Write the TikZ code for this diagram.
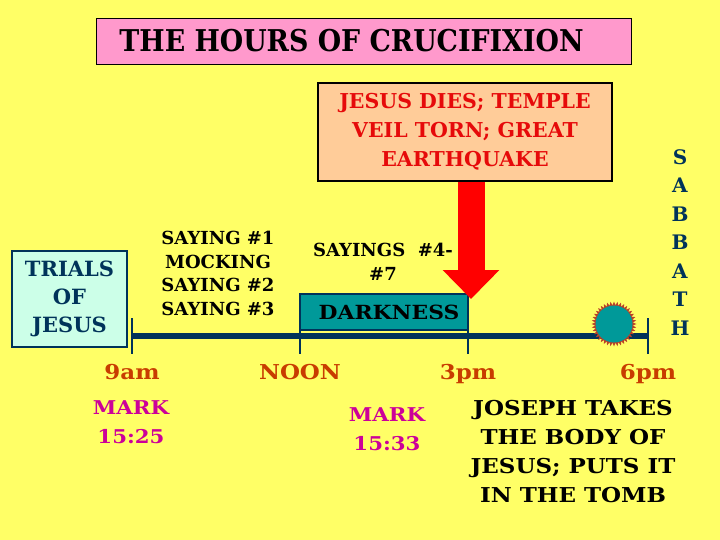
\documentclass[tikz,border=0pt]{standalone}
\usepackage{fontspec}
\setmainfont{DejaVu Serif}
\newfontfamily\widefont{DejaVu Serif}[FakeStretch=1.12]
\newfontfamily\narrowfont{DejaVu Serif}[FakeStretch=0.895]
\usepackage{xcolor}
\usetikzlibrary{arrows.meta,shapes.geometric,positioning}
\definecolor{bgyellow}{RGB}{255,255,102}
\definecolor{titlepink}{RGB}{255,153,204}
\definecolor{peach}{RGB}{255,204,153}
\definecolor{mint}{RGB}{204,255,232}
\definecolor{navy}{RGB}{0,51,90}
\definecolor{tealbox}{RGB}{0,153,153}
\definecolor{hourbrown}{RGB}{200,60,0}
\definecolor{markpink}{RGB}{204,0,153}
\definecolor{diesred}{RGB}{230,10,10}
\definecolor{sunspike}{RGB}{185,65,40}
\begin{document}
\begin{tikzpicture}[x=1pt,y=-1pt,>=Stealth,
  txt/.style 2 args={font=\bfseries\fontsize{#1}{#2}\selectfont,align=center,inner sep=0pt},
  wtxt/.style 2 args={font=\widefont\bfseries\fontsize{#1}{#2}\selectfont,align=center,inner sep=0pt},
  hour/.style={wtxt={20.5}{29},text=hourbrown,text height=15pt,text depth=0pt},
  verse/.style={wtxt={19}{29},text=markpink},
  tick/.style={navy,line width=2.5pt}]
\useasboundingbox[fill=bgyellow](0,0)rectangle(720,540);
% title
\node[draw=black,fill=titlepink,minimum width=535pt,minimum height=46pt,inner sep=0pt](titlebox)at(363.5,41){};
\node[font=\narrowfont\bfseries\fontsize{30}{36}\selectfont,inner sep=0pt]at([xshift=-12pt]titlebox.center){THE HOURS OF CRUCIFIXION};
% death of Jesus
\node[draw=black,line width=2pt,fill=peach,minimum width=294pt,minimum height=98pt,txt={20.5}{29},text=diesred](dies)at(465,132){JESUS DIES; TEMPLE\\VEIL TORN; GREAT\\EARTHQUAKE};
% timeline
\coordinate(t9)at(132,336);
\coordinate(tnoon)at(300,336);
\coordinate(t3)at(468,336);
\coordinate(t6)at(648,336);
\node[draw=navy,line width=1.5pt,fill=tealbox,minimum width=168pt,minimum height=36pt,wtxt={19.5}{24}](dark)at(384,312){\hspace*{10pt}DARKNESS};
\draw[navy,line width=6pt](t9)--(t6);
\foreach \t in {t9,tnoon,t3,t6}
  \draw[tick]([yshift=18pt]\t)--([yshift=-18pt]\t);
\node[star,star points=40,star point ratio=1.2,fill=sunspike,minimum size=45pt,inner sep=0pt](sun)at(614,324){};
\fill[tealbox](sun.center)circle(18.5);
\coordinate(tip)at(471,299);
\draw[red,line width=27pt,-{Triangle[width=55pt,length=29pt]}](dies.south-|tip)--(tip);
% sayings
\node[draw=navy,line width=2pt,fill=mint,minimum width=115pt,minimum height=96pt,txt={21}{28},text=navy](trials)at(69.5,299){TRIALS\\OF\\JESUS};
\node[txt={18}{23.5}](say13)at(218,273.5){SAYING \#1\\MOCKING\\SAYING \#2\\SAYING \#3};
\node[txt={18}{24}](say47)at(383,262){SAYINGS\ \ \#4-\\\#7};
\node[txt={20}{28.5},text=navy](sabbath)at(680,242.5){S\\A\\B\\B\\A\\T\\H};
% hours
\node[hour,below=28pt of t9](h9){9am};
\node[hour,below=28pt of tnoon](hnoon){NOON};
\node[hour,below=28pt of t3](h3){3pm};
\node[hour,below=28pt of t6](h6){6pm};
\node[verse](mark25)at(131,422.5){MARK\\15:25};
\node[verse](mark33)at(387,429){MARK\\15:33};
\node[wtxt={20.5}{29}](joseph)at(573,451.5){JOSEPH TAKES\\THE BODY OF\\JESUS; PUTS IT\\IN THE TOMB};
\end{tikzpicture}
\end{document}
